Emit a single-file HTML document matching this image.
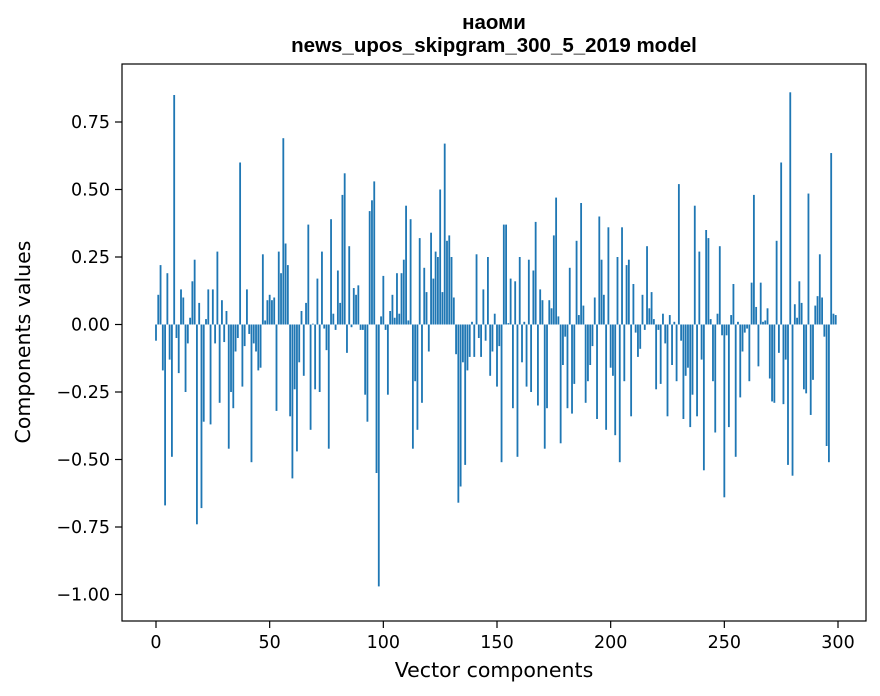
<!DOCTYPE html>
<html><head><meta charset="utf-8"><style>
body{margin:0;background:#fff;}
svg{display:block;font-family:"DejaVu Sans","Liberation Sans",sans-serif;}
</style></head><body>
<svg id="chart" width="880" height="696" viewBox="0 0 880 696" xmlns="http://www.w3.org/2000/svg">
<rect x="0" y="0" width="880" height="696" fill="#fff"/>
<text x="494" y="29" text-anchor="middle" font-size="20.5" font-weight="bold" font-family="Liberation Sans, Arial, sans-serif">наоми</text>
<text x="494" y="52" text-anchor="middle" font-size="20.5" font-weight="bold" font-family="Liberation Sans, Arial, sans-serif">news_upos_skipgram_300_5_2019 model</text>
<g id="bars"></g>
<g id="xticks"></g>
<g id="yticks"></g>
<rect x="122" y="64" width="744" height="557" fill="none" stroke="#000" stroke-width="1.2"/>
<text x="494" y="677" text-anchor="middle" font-size="20.5">Vector components</text>
<text x="0" y="0" text-anchor="middle" font-size="20.5" transform="translate(30,342) rotate(-90)">Components values</text>
</svg>
<script>
const values = [
-0.06,0.11,0.22,-0.17,-0.67,0.19,-0.13,-0.49,0.85,-0.05,
-0.18,0.13,0.10,-0.25,-0.07,0.025,0.16,0.24,-0.74,0.08,
-0.68,-0.36,0.02,0.13,-0.37,0.13,-0.07,0.27,-0.29,0.09,
-0.065,0.05,-0.46,-0.25,-0.31,-0.10,-0.05,0.60,-0.23,-0.08,
0.13,-0.035,-0.51,-0.07,-0.10,-0.17,-0.16,0.26,0.015,0.09,
0.11,0.09,0.10,-0.32,0.27,0.19,0.69,0.30,0.22,-0.34,
-0.57,-0.24,-0.47,-0.14,0.05,-0.19,0.08,0.37,-0.39,0.003,
-0.24,0.17,-0.25,0.27,-0.015,-0.095,-0.46,0.39,0.04,-0.02,
0.20,0.08,0.48,0.56,-0.105,0.29,-0.01,0.135,0.11,0.145,
-0.02,-0.02,-0.26,-0.36,0.42,0.46,0.53,-0.55,-0.97,0.03,
0.18,-0.02,-0.26,0.05,0.11,0.025,0.19,0.04,0.19,0.24,
0.44,0.015,0.39,-0.46,-0.21,-0.39,0.32,-0.29,0.21,0.12,
-0.10,0.34,0.17,0.27,0.25,0.50,0.12,0.67,0.31,0.33,
0.25,0.10,-0.11,-0.66,-0.60,-0.14,-0.52,-0.17,-0.12,0.01,
-0.12,0.26,-0.05,-0.12,0.13,-0.06,0.25,-0.19,-0.10,0.04,
-0.23,-0.08,-0.51,0.37,0.37,0.005,0.17,-0.31,0.16,-0.49,
0.25,-0.14,0.01,-0.23,0.24,-0.25,0.20,0.38,-0.30,0.13,
0.09,-0.46,-0.31,0.09,0.06,0.33,0.47,0.03,-0.44,-0.15,
-0.045,-0.31,0.21,-0.33,-0.22,0.31,0.035,0.45,0.07,-0.29,
-0.21,-0.15,-0.08,0.10,-0.35,0.40,0.24,0.11,-0.39,0.36,
-0.16,-0.19,-0.41,0.25,-0.51,0.36,-0.21,0.22,0.24,-0.34,
0.15,-0.03,-0.12,-0.09,0.11,-0.02,0.29,0.06,0.12,0.02,
-0.24,-0.02,-0.22,0.04,-0.07,-0.34,0.035,-0.15,0.01,-0.21,
0.52,-0.06,-0.35,-0.19,-0.16,-0.38,-0.26,0.44,-0.34,0.27,
-0.13,-0.54,0.35,0.32,0.02,-0.21,-0.40,0.04,0.29,-0.04,
-0.64,-0.04,-0.38,0.035,0.15,-0.49,0.01,-0.27,-0.10,-0.03,
-0.015,-0.21,0.155,0.48,0.065,-0.155,0.155,0.01,0.015,0.06,
-0.20,-0.285,-0.29,0.31,-0.105,0.60,-0.295,-0.13,-0.52,0.86,
-0.56,0.075,0.025,0.16,0.08,-0.24,-0.255,0.485,-0.335,-0.205,
0.07,0.105,0.26,0.10,-0.045,-0.45,-0.51,0.635,0.04,0.035
];
const xTickValues = [0,50,100,150,200,250,300];
const xTickLabels = ["0","50","100","150","200","250","300"];
const yTickValues = [0.75,0.5,0.25,0,-0.25,-0.5,-0.75,-1.0];
const yTickLabels = ["0.75","0.50","0.25","0.00","\u22120.25","\u22120.50","\u22120.75","\u22121.00"];

const NS = "http://www.w3.org/2000/svg";
function xScale(v){ return 156 + v * (682/300); }
function yScale(v){ return 324.5 - v * 270; }
const barW = 0.8 * (682/300);

const gb = document.getElementById('bars');
values.forEach(function(v, i){
  const r = document.createElementNS(NS, 'rect');
  const y0 = yScale(0), y1 = yScale(v);
  r.setAttribute('x', (xScale(i) - barW/2).toFixed(2));
  r.setAttribute('y', Math.min(y0, y1).toFixed(2));
  r.setAttribute('width', barW.toFixed(2));
  r.setAttribute('height', Math.max(Math.abs(y1 - y0), 0.3).toFixed(2));
  r.setAttribute('fill', '#1f77b4');
  
  
  gb.appendChild(r);
});

const gx = document.getElementById('xticks');
xTickValues.forEach(function(v, i){
  const x = xScale(v);
  const l = document.createElementNS(NS, 'line');
  l.setAttribute('x1', x); l.setAttribute('x2', x);
  l.setAttribute('y1', 621); l.setAttribute('y2', 628);
  l.setAttribute('stroke', '#000'); l.setAttribute('stroke-width', '1.2');
  
  
  gx.appendChild(l);
  const t = document.createElementNS(NS, 'text');
  t.setAttribute('x', x); t.setAttribute('y', 648);
  t.setAttribute('text-anchor', 'middle'); t.setAttribute('font-size', '17.5');
  t.textContent = xTickLabels[i];
  
  
  gx.appendChild(t);
});

const gy = document.getElementById('yticks');
yTickValues.forEach(function(v, i){
  const y = yScale(v);
  const l = document.createElementNS(NS, 'line');
  l.setAttribute('x1', 115); l.setAttribute('x2', 122);
  l.setAttribute('y1', y); l.setAttribute('y2', y);
  l.setAttribute('stroke', '#000'); l.setAttribute('stroke-width', '1.2');
  
  
  gy.appendChild(l);
  const t = document.createElementNS(NS, 'text');
  t.setAttribute('x', 110); t.setAttribute('y', y + 6);
  t.setAttribute('text-anchor', 'end'); t.setAttribute('font-size', '17.5');
  t.textContent = yTickLabels[i];
  
  
  gy.appendChild(t);
});
</script>
</body></html>
